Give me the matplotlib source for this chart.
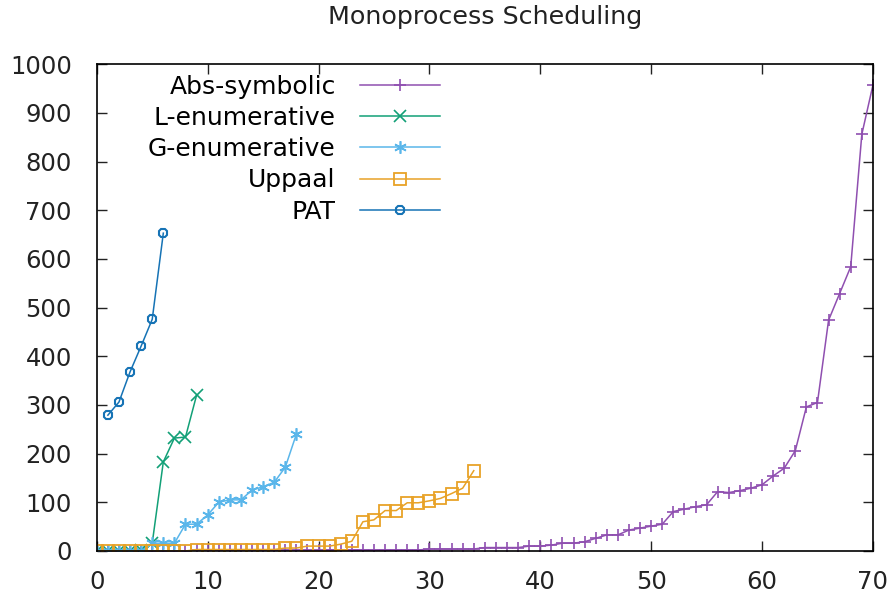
import numpy as np
import matplotlib.pyplot as plt

# run times per benchmark instance, sorted, one list per tool
abs_symbolic = [0] * 9 + [1] * 12 + [2] * 9 + [4] * 5 + [7] * 4 + [
    10, 10, 12, 16, 16, 19, 26, 33, 33, 43, 47, 51, 55, 81, 86, 91, 95, 122,
    120, 124, 129, 136, 154, 170, 206, 296, 305, 474, 529, 584, 856, 957]
l_enumerative = [0, 0, 0, 0, 2, 16, 183, 232, 234, 320]
g_enumerative = [0, 0, 0, 0, 0, 16, 16, 16, 55, 55, 74, 100, 105, 105, 125,
                 132, 141, 172, 240]
uppaal = [0] * 9 + [3] * 8 + [6] * 2 + [10] * 3 + [
    14, 20, 60, 64, 83, 83, 99, 99, 103, 108, 118, 129, 165]
pat = [279, 306, 368, 421, 476, 653]

x_abs = np.arange(len(abs_symbolic))
x_l = np.arange(len(l_enumerative))
x_g = np.arange(len(g_enumerative))
x_u = np.arange(len(uppaal))
x_pat = np.arange(1, len(pat) + 1)

fig = plt.figure(figsize=(8.88, 5.95), dpi=100)
ax = fig.add_axes([0.109, 0.074, 0.874, 0.818])

lw = 1.1
ms = 9
ax.plot(x_abs, abs_symbolic, color='#8f4fb0', lw=lw, marker='+', ms=ms,
        mew=1.2, label='Abs-symbolic')
ax.plot(x_l, l_enumerative, color='#12a077', lw=lw, marker='x', ms=ms - 1,
        mew=1.2, label='L-enumerative')
ax.plot(x_g, g_enumerative, color='#5ab6ea', lw=lw, marker=(6, 2, 0),
        ms=ms, mew=1.2, label='G-enumerative')
ax.plot(x_u, uppaal, color='#e8a227', lw=lw, marker='s', ms=ms - 1,
        mfc='none', mew=1.3, label='Uppaal')
ax.plot(x_pat, pat, color='#1673b5', lw=lw, marker='8', ms=ms - 2,
        mfc='none', mew=1.5, label='PAT')

ax.set_xlim(0, 70)
ax.set_ylim(0, 1000)
ax.set_xticks(np.arange(0, 71, 10))
ax.set_yticks(np.arange(0, 1001, 100))
ax.tick_params(direction='in', length=7, width=1, top=True, right=True,
               labelsize=17.5, colors='#222222')
ax.tick_params(axis='x', pad=14)
ax.tick_params(axis='y', pad=18)
for s in ax.spines.values():
    s.set_linewidth(1.2)

ax.set_title('Monoprocess Scheduling', fontsize=18.3, pad=29, color='#222222')

ax.legend(loc='upper right', bbox_to_anchor=(0.468, 1.02), frameon=False,
          markerfirst=False, fontsize=18, handlelength=3.2,
          handletextpad=0.97, labelspacing=0.29, borderpad=0.3)

fig.savefig('out.png', dpi=100)
